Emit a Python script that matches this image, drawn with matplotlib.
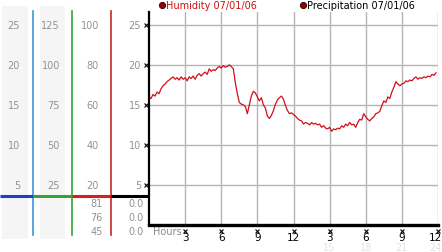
import numpy as np
import matplotlib

matplotlib.use("Agg")
import matplotlib.pyplot as plt  # noqa: E402
from matplotlib.transforms import blended_transform_factory  # noqa: E402

# humidity readings every 10 minutes, 00:00 -> 23:50
humidity = [
    16.0, 15.8, 16.3, 16.1, 16.6, 16.4,
    17.0, 17.4, 17.6, 17.9, 18.1, 18.3,
    18.5, 18.2, 18.4, 18.1, 18.5, 18.2,
    18.4, 18.0, 18.5, 18.3, 18.6, 18.2,
    18.7, 18.9, 18.6, 18.9, 19.1, 18.8,
    19.5, 19.2, 19.4, 19.3, 19.6, 19.8,
    19.6, 19.9, 19.7, 19.8, 20.0, 19.8,
    19.5, 17.8, 16.4, 15.3, 15.1, 15.0,
    14.8, 13.9, 15.0, 16.1, 16.7, 16.5,
    16.0, 15.5, 15.9, 15.0, 14.6, 13.6,
    13.3, 13.7, 14.3, 15.1, 15.6, 15.9,
    16.1, 15.7, 14.9, 14.3, 13.9, 14.0,
    13.8, 13.6, 13.3, 13.1, 13.0, 12.6,
    12.8, 12.7, 12.5, 12.8, 12.6, 12.7,
    12.5, 12.6, 12.2, 12.4, 12.1, 12.0,
    12.2, 11.7, 12.0, 11.9, 12.1, 12.0,
    12.4, 12.2, 12.6, 12.4, 12.8, 12.5,
    12.6, 12.2, 12.8, 13.2, 13.1, 13.9,
    13.5, 13.2, 13.0, 13.3, 13.5, 13.9,
    14.0, 14.2, 14.9, 15.5, 15.3, 16.0,
    15.8, 16.6, 17.2, 17.9, 17.6, 17.4,
    17.6, 17.7, 18.0, 17.9, 18.1, 18.0,
    18.3, 18.5, 18.2, 18.4, 18.3, 18.5,
    18.4, 18.6, 18.5, 18.8, 18.7, 19.0,
]
hours = np.arange(len(humidity)) / 6.0

y_ticks = [5, 10, 15, 20, 25]
scale_a = ["5", "10", "15", "20", "25"]
scale_b = ["25", "50", "75", "100", "125"]
scale_c = ["20", "40", "60", "80", "100"]
scale_d = ["5", "10", "15", "20", "25"]
readings_c = ["81", "76", "45"]
readings_d = ["0.0", "0.0", "0.0"]

x_ticks = [3, 6, 9, 12, 15, 18, 21, 24]
x_labels = ["3", "6", "9", "12", "3", "6", "9", "12"]
faint_ticks = [15, 18, 21, 24]
faint_labels = ["15", "18", "21", "24"]

W, H = 442, 253
fig = plt.figure(figsize=(W / 100, H / 100), dpi=100)

bg = fig.add_axes([0, 0, 1, 1], zorder=0)
bg.set_xlim(0, W)
bg.set_ylim(H, 0)
bg.axis("off")

ax = fig.add_axes([149 / W, (H - 226) / H, 289 / W, 213 / H], zorder=1)
ax.set_xlim(0, 24)
ax.set_ylim(0, 26.6)
ax.set_facecolor("none")
for side in ("top", "right"):
    ax.spines[side].set_visible(False)
ax.spines["left"].set_linewidth(1.6)
ax.spines["bottom"].set_linewidth(2.4)
ax.spines["left"].set_zorder(5)
ax.spines["bottom"].set_zorder(5)
ax.set_xticks(x_ticks)
ax.set_yticks(y_ticks)
ax.tick_params(length=0, labelleft=False, labelbottom=False)
ax.grid(color="#b4b4b4", linewidth=1)

ax.plot(hours, humidity, color="#d0101c", linewidth=0.9, zorder=4)

# small tick glyphs
ax.plot([-0.25] * len(y_ticks), y_ticks, ls="none", marker="x", ms=2.5,
        mew=0.8, color="black", clip_on=False, zorder=6)
ax.plot(x_ticks, [-0.7] * len(x_ticks), ls="none", marker="x", ms=2.5,
        mew=0.8, color="black", clip_on=False, zorder=6)

# left scale columns
trans = blended_transform_factory(bg.transData, ax.transData)
for x0, x1 in [(2, 28), (40, 65)]:
    bg.fill_between([x0, x1], 7, 240, color="#f5f5f5", lw=0)

for col_x, labels in [(20, scale_a), (60, scale_b), (99, scale_c), (141, scale_d)]:
    for yv, lab in zip(y_ticks, labels):
        bg.text(col_x, yv, lab, transform=trans, ha="right", va="center",
                fontsize=7, color="#929292")

for i, (a, b) in enumerate(zip(readings_c, readings_d)):
    bg.text(103, 204 + i * 14, a, ha="right", va="center", fontsize=7, color="#929292")
    bg.text(144, 204 + i * 14, b, ha="right", va="center", fontsize=7, color="#929292")

bg.plot([33, 33], [12, 236], color="#3a9ad6", lw=1.2)
bg.plot([72, 72], [12, 236], color="#35a335", lw=1.2)
bg.plot([111, 111], [12, 236], color="#c42a2a", lw=1.2)
bg.plot([0, 33], [197, 197], color="#1f3fc8", lw=2.2, solid_capstyle="butt")
bg.plot([33, 72], [197, 197], color="#35a335", lw=2.2, solid_capstyle="butt")
bg.plot([72, 111], [197, 197], color="#d42020", lw=2.2, solid_capstyle="butt")
bg.plot([111, 149], [197, 197], color="black", lw=2.2, solid_capstyle="butt")

# x labels (last one pushed inside the right edge)
xtrans = blended_transform_factory(ax.transData, bg.transData)
for xv, lab in zip(x_ticks, x_labels):
    ha = "right" if xv == x_ticks[-1] else "center"
    xoff = 0.3 if ha == "right" else 0
    bg.text(xv + xoff, 238, lab, transform=xtrans, ha=ha, va="center",
            fontsize=7.5, color="black")
for xv, lab in zip(faint_ticks, faint_labels):
    ha = "right" if xv == faint_ticks[-1] else "center"
    xoff = 0.3 if ha == "right" else 0
    bg.text(xv + xoff, 248, lab, transform=xtrans, ha=ha, va="center",
            fontsize=7, color="#e2e2e2")
bg.text(153, 232, "Hours", ha="left", va="center", fontsize=7, color="#8a8a8a")

# legend
bg.plot([162], [6], ls="none", marker="o", ms=4.5, mfc="#9a0000", mec="#300000", mew=0.6)
bg.text(166, 6, "Humidity 07/01/06", ha="left", va="center", fontsize=7, color="#cc1010")
bg.plot([303], [6], ls="none", marker="o", ms=4.5, mfc="#9a0000", mec="#300000", mew=0.6)
bg.text(307, 6, "Precipitation 07/01/06", ha="left", va="center", fontsize=7, color="black")

fig.savefig("out.png", dpi=100)
